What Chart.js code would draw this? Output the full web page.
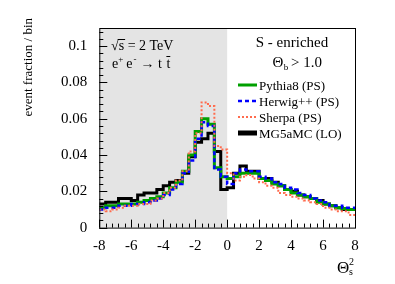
<!DOCTYPE html>
<html>
<head>
<meta charset="utf-8">
<script src="https://cdn.jsdelivr.net/npm/chart.js@4"></script>
<style>
  html, body { margin: 0; padding: 0; background: #fff; }
  #wrap { width: 395px; height: 284px; position: relative; }
</style>
</head>
<body>
<div id="wrap"><canvas id="thetaChart"></canvas></div>
<script>
// binning of the histogram: 40 bins of 0.4 from -8 to 8
const binStart = -8;
const binStep = 0.4;

const seriesNames = ['Pythia8 (PS)', 'Herwig++ (PS)', 'Sherpa (PS)', 'MG5aMC (LO)'];

const pythia8 = [
  0.011, 0.012, 0.012, 0.013, 0.013, 0.013, 0.014, 0.015, 0.016, 0.017,
  0.019, 0.022, 0.025, 0.031, 0.040, 0.053, 0.060, 0.057, 0.033, 0.028,
  0.027, 0.028, 0.030, 0.030, 0.030, 0.027, 0.026, 0.024, 0.023, 0.021,
  0.019, 0.018, 0.017, 0.016, 0.014, 0.013, 0.012, 0.011, 0.0105, 0.010
];
const herwig = [
  0.010, 0.011, 0.011, 0.012, 0.012, 0.013, 0.013, 0.014, 0.015, 0.016,
  0.018, 0.021, 0.024, 0.030, 0.037, 0.049, 0.058, 0.056, 0.032, 0.028,
  0.024, 0.030, 0.032, 0.031, 0.031, 0.028, 0.027, 0.025, 0.024, 0.022,
  0.021, 0.019, 0.018, 0.016, 0.015, 0.014, 0.012, 0.012, 0.011, 0.011
];
const sherpa = [
  0.010, 0.009, 0.010, 0.011, 0.012, 0.012, 0.013, 0.013, 0.015, 0.016,
  0.019, 0.022, 0.026, 0.031, 0.042, 0.052, 0.069, 0.067, 0.045, 0.043,
  0.030, 0.026, 0.028, 0.029, 0.027, 0.025, 0.023, 0.022, 0.019, 0.018,
  0.017, 0.016, 0.015, 0.014, 0.013, 0.011, 0.010, 0.009, 0.009, 0.007
];
const mg5amc = [
  0.013, 0.014, 0.014, 0.016, 0.016, 0.015, 0.018, 0.019, 0.019, 0.021,
  0.023, 0.025, 0.026, 0.030, 0.039, 0.047, 0.049, 0.052, 0.042, 0.021,
  0.022, 0.030, 0.034, 0.031, 0.031, 0.027, 0.027, 0.025, 0.023, 0.021,
  0.020, 0.018, 0.017, 0.016, 0.015, 0.013, 0.012, 0.011, 0.010, 0.010
];

const xTicks = [-8, -6, -4, -2, 0, 2, 4, 6, 8];
const yTicks = [0, 0.02, 0.04, 0.06, 0.08, 0.1];

const SERIF = '"Liberation Serif", "Times New Roman", serif';

// points at left bin edges + closing point at the last edge
function toSteps(vals) {
  const pts = vals.map((v, i) => ({ x: binStart + i * binStep, y: v }));
  pts.push({ x: binStart + vals.length * binStep, y: vals[vals.length - 1] });
  return pts;
}

const styles = [
  { color: '#00a000', width: 3, dash: [] },
  { color: '#0000ff', width: 2.5, dash: [4, 3] },
  { color: '#ff6b4d', width: 2, dash: [2, 2] },
  { color: '#000000', width: 3, dash: [] }
];
const drawOrder = [2, 1, 0, 3];

const allSeries = [pythia8, herwig, sherpa, mg5amc];

const decor = {
  id: 'decor',
  beforeDatasetsDraw(chart) {
    const { ctx, chartArea: a, scales: { x } } = chart;
    ctx.save();
    ctx.fillStyle = '#e4e4e4';
    ctx.fillRect(a.left, a.top, x.getPixelForValue(0) - a.left, a.bottom - a.top);
    ctx.restore();
  },
  afterDatasetsDraw(chart) {
    const { ctx, chartArea: a, scales: { x, y } } = chart;
    ctx.save();
    ctx.strokeStyle = '#000';
    ctx.lineWidth = 1;
    ctx.strokeRect(a.left + 0.5, a.top + 0.5, a.right - a.left, a.bottom - a.top);

    // inward ticks
    ctx.beginPath();
    for (let i = 0; i <= 27; i++) {
      const v = i * 0.004;
      const py = Math.round(y.getPixelForValue(v)) + 0.5;
      const len = i % 5 === 0 ? 8 : 4;
      ctx.moveTo(a.left, py);
      ctx.lineTo(a.left + len, py);
    }
    for (let i = 0; i <= 40; i++) {
      const v = binStart + i * binStep;
      const px = Math.round(x.getPixelForValue(v)) + 0.5;
      const len = i % 5 === 0 ? 8 : 4;
      ctx.moveTo(px, a.bottom);
      ctx.lineTo(px, a.bottom - len);
    }
    ctx.stroke();

    ctx.fillStyle = '#000';
    ctx.textBaseline = 'alphabetic';

    // y title
    ctx.save();
    ctx.translate(32, 18);
    ctx.rotate(-Math.PI / 2);
    ctx.textAlign = 'right';
    ctx.font = '13px ' + SERIF;
    ctx.fillText('event fraction / bin', 0, 0);
    ctx.restore();

    // x title
    ctx.textAlign = 'left';
    ctx.font = '17px ' + SERIF;
    ctx.fillText('\u0398', 337, 273);
    ctx.font = '10px ' + SERIF;
    ctx.fillText('2', 349, 265);
    ctx.fillText('s', 349, 275);

    // process text
    ctx.font = '14px ' + SERIF;
    ctx.fillText('\u221a', 111, 50);
    const rw = ctx.measureText('\u221a').width;
    ctx.fillText('s = 2 TeV', 111 + rw, 50);
    const sw = ctx.measureText('s').width;
    ctx.beginPath();
    ctx.moveTo(111 + rw - 1, 39.5);
    ctx.lineTo(111 + rw + sw + 1, 39.5);
    ctx.stroke();

    let cx = 112;
    const base = 68;
    ctx.font = '14px ' + SERIF;
    ctx.fillText('e', cx, base); cx += ctx.measureText('e').width;
    ctx.font = '9px ' + SERIF;
    ctx.fillText('+', cx, base - 6); cx += ctx.measureText('+').width + 3;
    ctx.font = '14px ' + SERIF;
    ctx.fillText('e', cx, base); cx += ctx.measureText('e').width;
    ctx.font = '9px ' + SERIF;
    ctx.fillText('-', cx + 1, base - 6); cx += ctx.measureText('-').width + 5;
    ctx.font = '14px ' + SERIF;
    ctx.fillText('\u2192 t', cx, base); cx += ctx.measureText('\u2192 t ').width + 1;
    ctx.fillText('t', cx, base);
    const tw = ctx.measureText('t').width;
    ctx.beginPath();
    ctx.moveTo(cx, base - 11.5);
    ctx.lineTo(cx + tw, base - 11.5);
    ctx.stroke();

    // legend header
    ctx.textAlign = 'center';
    ctx.font = '15px ' + SERIF;
    ctx.fillText('S - enriched', 292, 47);
    ctx.fillText('\u0398', 278, 67);
    ctx.font = '9px ' + SERIF;
    ctx.fillText('b', 286, 70);
    ctx.font = '15px ' + SERIF;
    ctx.textAlign = 'left';
    ctx.fillText('> 1.0', 291, 67);

    // legend entries
    const rows = [85, 101, 117, 133];
    ctx.font = '13px ' + SERIF;
    seriesNames.forEach((name, i) => {
      const s = styles[i];
      ctx.save();
      ctx.strokeStyle = s.color;
      ctx.lineWidth = i === 3 ? 5 : s.width;
      ctx.setLineDash(s.dash);
      ctx.beginPath();
      ctx.moveTo(238, rows[i]);
      ctx.lineTo(257, rows[i]);
      ctx.stroke();
      ctx.restore();
      ctx.fillText(name, 259, rows[i] + 4.5);
    });
    ctx.restore();
  }
};

new Chart(document.getElementById('thetaChart'), {
  type: 'line',
  data: {
    datasets: allSeries.map((vals, i) => ({
      label: seriesNames[i],
      data: toSteps(vals),
      borderColor: styles[i].color,
      borderWidth: styles[i].width,
      borderDash: styles[i].dash,
      stepped: true,
      pointRadius: 0,
      fill: false,
      order: drawOrder[i]
    }))
  },
  options: {
    responsive: true,
    maintainAspectRatio: false,
    animation: false,
    events: [],
    layout: { padding: { top: 28, right: 40, left: 0, bottom: 0 } },
    plugins: { legend: { display: false }, tooltip: { enabled: false } },
    scales: {
      x: {
        type: 'linear',
        min: -8,
        max: 8,
        grid: { display: false },
        border: { display: false },
        afterFit: s => { s.height = 56.4; },
        afterBuildTicks: s => { s.ticks = xTicks.map(v => ({ value: v })); },
        ticks: {
          color: '#000',
          padding: 1,
          maxRotation: 0,
          font: { family: SERIF, size: 15 },
          callback: v => String(v)
        }
      },
      y: {
        min: 0,
        max: 0.11,
        grid: { display: false },
        border: { display: false },
        afterFit: s => { s.width = 99.3; },
        afterBuildTicks: s => { s.ticks = yTicks.map(v => ({ value: v })); },
        ticks: {
          color: '#000',
          padding: 4,
          font: { family: SERIF, size: 15 },
          callback: v => String(Math.round(v * 100) / 100)
        }
      }
    }
  },
  plugins: [decor]
});
</script>
</body>
</html>
